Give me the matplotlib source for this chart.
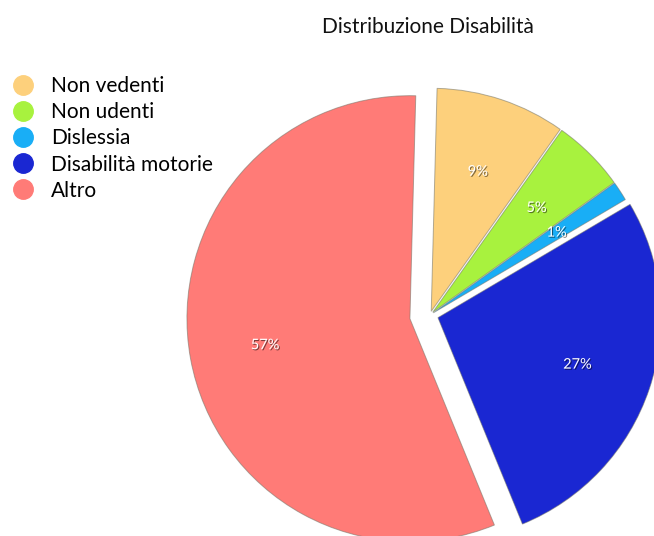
import matplotlib
matplotlib.use('Agg')
import matplotlib.pyplot as plt
import matplotlib.patheffects as pe
from matplotlib.lines import Line2D

plt.rcParams['font.family'] = ['Lato', 'DejaVu Sans']

# dati (percentuali)
categorie = ['Non vedenti', 'Non udenti', 'Dislessia', 'Disabilità motorie', 'Altro']
valori = [9.4, 5.3, 1.4, 27.3, 56.6]
colori = ['#FDD07C', '#A8F23E', '#19AEF6', '#1A27D2', '#FF7B77']
# spostamento delle fette in pixel
esplosione = [3.9, 3.9, 3.9, 8.4, 20.4]

fig = plt.figure(figsize=(6.54, 5.36), dpi=100)
ax = fig.add_axes([0, 0, 1, 1])

# coordinate in pixel (y verso l'alto)
centro = (430, 536 - 315)
raggio = 223

wedges, testi, pct = ax.pie(
    valori, colors=colori, explode=esplosione, center=centro, radius=raggio,
    startangle=88.5, counterclock=False, autopct='%.0f%%', pctdistance=0.66,
    wedgeprops=dict(edgecolor=(0.45, 0.45, 0.4, 0.55), linewidth=0.7),
    textprops=dict(color='white', fontsize=10.5))

for t in pct:
    t.set_path_effects([pe.SimplePatchShadow(offset=(0.8, -0.8), shadow_rgbFace='k', alpha=0.5),
                        pe.Normal()])

ax.set_xlim(0, 654)
ax.set_ylim(0, 536)
ax.set_aspect('equal')
ax.axis('off')

fig.text(428 / 654, 1 - 27 / 536, 'Distribuzione Disabilità', ha='center', va='center',
         fontsize=15, color='#111111')

handles = [Line2D([], [], marker='o', linestyle='', markersize=14,
                  markerfacecolor=c, markeredgecolor=c) for c in colori]
fig.legend(handles, categorie, loc='upper left', bbox_to_anchor=(0.0, 1 - 66 / 536),
           frameon=False, fontsize=15, handletextpad=0.75, labelspacing=0.29,
           handlelength=1.2, borderaxespad=0.3, borderpad=0.2)

fig.savefig('out.png', dpi=100)
